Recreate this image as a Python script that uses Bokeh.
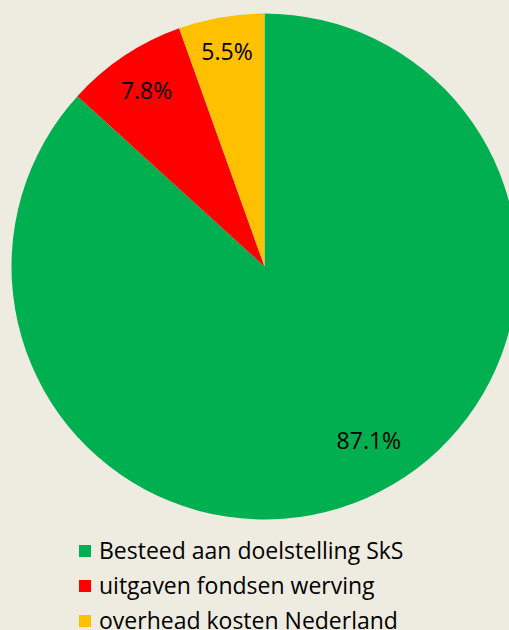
import math
from bokeh.plotting import figure
from bokeh.models import ColumnDataSource, Range1d, Legend, LegendItem
from bokeh.core.properties import value
from bokeh.embed import file_html
from bokeh.resources import INLINE

categories = ["Besteed aan doelstelling SkS", "uitgaven fondsen werving", "overhead kosten Nederland"]
shares = [87.1, 7.8, 5.5]
labels = ["87.1%", "7.8%", "5.5%"]
colors = ["#00B050", "#FF0000", "#FFC000"]

BG = "#EEECE1"
R = 253
FONT = "Open Sans"

# angles: start at 12 o'clock, clockwise
total = sum(shares)
starts, ends, mids = [], [], []
acc = 0.0
for s in shares:
    a0 = math.pi / 2 - 2 * math.pi * acc / total
    acc += s
    a1 = math.pi / 2 - 2 * math.pi * acc / total
    starts.append(a0)
    ends.append(a1)
    mids.append((a0 + a1) / 2)

label_frac = [0.80, 0.84, 0.865]
label_shift = [math.radians(7.2), 0.0, 0.0]
lx = [R * f * math.cos(m + sh) for f, m, sh in zip(label_frac, mids, label_shift)]
ly = [R * f * math.sin(m + sh) for f, m, sh in zip(label_frac, mids, label_shift)]

src = ColumnDataSource(dict(start=starts, end=ends, color=colors, cat=categories))
lsrc = ColumnDataSource(dict(x=lx, y=ly, t=labels))

p = figure(width=509, height=630, output_backend="svg", toolbar_location=None,
           x_range=Range1d(-264, 245), y_range=Range1d(-364, 266),
           min_border=0, background_fill_color=BG, border_fill_color=BG,
           outline_line_color=None)
p.axis.visible = False
p.grid.visible = False

r = p.wedge(x=0, y=0, radius=R, start_angle="start", end_angle="end",
            direction="clock", fill_color="color", line_color=None, source=src)

p.text(x="x", y="y", text="t", source=lsrc, text_font=value(FONT),
       text_font_size="23px", text_color="#000000",
       text_align="center", text_baseline="middle")

items = [LegendItem(label=c, renderers=[r], index=i) for i, c in enumerate(categories)]
legend = Legend(items=items, location=(77, -6), orientation="vertical",
                background_fill_alpha=0, border_line_color=None,
                padding=0, margin=0, spacing=3,
                glyph_width=15, glyph_height=15, label_standoff=7,
                label_height=22,
                label_text_font=FONT, label_text_font_size="23px",
                label_text_color="#000000")
p.add_layout(legend, "center")

html = file_html(p, INLINE)
html = html.replace("</head>", "<style>html,body{margin:0;padding:0;background:%s;}</style></head>" % BG, 1)
open("out.html", "w").write(html)
